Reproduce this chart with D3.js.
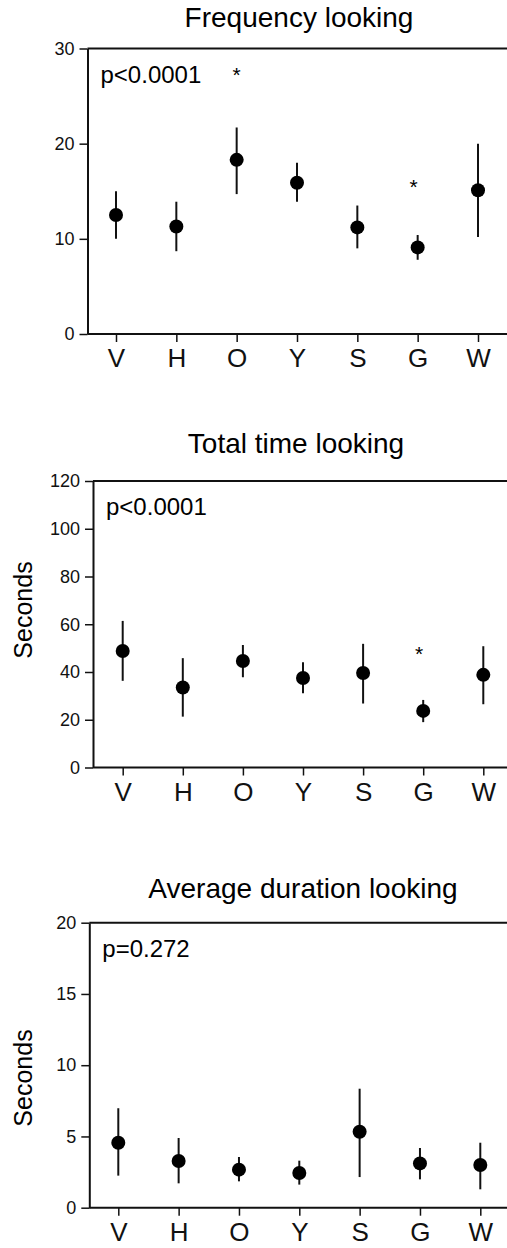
<!DOCTYPE html>
<html>
<head>
<meta charset="utf-8">
<script src="https://cdn.jsdelivr.net/npm/d3@7"></script>
<style>
  html, body { margin: 0; padding: 0; background: #fff; overflow: hidden; }
  svg { display: block; font-family: "Liberation Sans", Arial, Helvetica, sans-serif; }
</style>
</head>
<body>
<div id="chart"></div>
<script>
// Stimulus categories
const categories = ['V', 'H', 'O', 'Y', 'S', 'G', 'W'];

// Frequency looking (counts)
const freqMean = [12.5, 11.3, 18.3, 15.9, 11.2, 9.1, 15.1];
const freqLow  = [10.0, 8.7, 14.7, 13.9, 9.0, 7.8, 10.2];
const freqHigh = [15.0, 13.9, 21.7, 18.0, 13.5, 10.4, 20.0];
const freqTicks = [0, 10, 20, 30];
const freqStars = [{ cat: 'O', value: 27.4 }, { cat: 'G', value: 15.7 }];

// Total time looking (seconds)
const totalMean = [48.8, 33.5, 44.6, 37.5, 39.6, 23.7, 38.8];
const totalLow  = [36.3, 21.3, 37.8, 31.1, 26.8, 19.0, 26.5];
const totalHigh = [61.4, 45.8, 51.3, 44.1, 51.8, 28.3, 50.8];
const totalTicks = [0, 20, 40, 60, 80, 100, 120];
const totalStars = [{ cat: 'G', value: 48.2 }];

// Average duration looking (seconds)
const avgMean = [4.56, 3.28, 2.67, 2.43, 5.33, 3.11, 3.0];
const avgLow  = [2.25, 1.71, 1.85, 1.62, 2.15, 1.99, 1.29];
const avgHigh = [6.98, 4.89, 3.56, 3.30, 8.35, 4.19, 4.56];
const avgTicks = [0, 5, 10, 15, 20];
const avgStars = [];

const width = 507, height = 1248;

const panels = [
  { title: 'Frequency looking', note: 'p<0.0001', ylabel: null,
    mean: freqMean, low: freqLow, high: freqHigh, ticks: freqTicks, stars: freqStars,
    left: 87.5, top: 48.5, bottom: 334, x0: 116, x1: 478, titleX: 299, titleY: 27 },
  { title: 'Total time looking', note: 'p<0.0001', ylabel: 'Seconds',
    mean: totalMean, low: totalLow, high: totalHigh, ticks: totalTicks, stars: totalStars,
    left: 93, top: 481, bottom: 767.5, x0: 122.7, x1: 483.3, titleX: 296, titleY: 453, ylabelY: 610 },
  { title: 'Average duration looking', note: 'p=0.272', ylabel: 'Seconds',
    mean: avgMean, low: avgLow, high: avgHigh, ticks: avgTicks, stars: avgStars,
    left: 89.3, top: 922.7, bottom: 1207.7, x0: 118.3, x1: 480.3, titleX: 303, titleY: 898, ylabelY: 1078 }
];

const svg = d3.select('#chart').append('svg')
  .attr('width', width)
  .attr('height', height);

panels.forEach(p => {
  const g = svg.append('g');

  const x = d3.scalePoint().domain(categories).range([p.x0, p.x1]);
  const y = d3.scaleLinear()
    .domain([0, d3.max(p.ticks)])
    .range([p.bottom, p.top]);

  // title
  g.append('text')
    .attr('x', p.titleX)
    .attr('y', p.titleY)
    .attr('text-anchor', 'middle')
    .attr('font-size', 28)
    .text(p.title);

  // top frame line (open on the right)
  g.append('line')
    .attr('x1', p.left).attr('x2', width)
    .attr('y1', p.top).attr('y2', p.top)
    .attr('stroke', '#111').attr('stroke-width', 2);

  // y axis
  const yAxis = g.append('g')
    .attr('transform', `translate(${p.left},0)`)
    .call(d3.axisLeft(y).tickValues(p.ticks).tickSize(8).tickPadding(5).tickSizeOuter(0));
  yAxis.select('.domain').attr('stroke', '#111').attr('stroke-width', 2);
  yAxis.selectAll('.tick line').attr('stroke', '#111').attr('stroke-width', 1.5);
  yAxis.selectAll('.tick text')
    .attr('font-size', 18)
    .attr('font-family', '"Liberation Sans", Arial, sans-serif')
    .attr('fill', '#111');

  // x axis
  const xAxis = g.append('g')
    .attr('transform', `translate(0,${p.bottom})`)
    .call(d3.axisBottom(x).tickSize(8).tickPadding(7).tickSizeOuter(0));
  xAxis.select('.domain').attr('d', `M${p.left},0H${width}`)
    .attr('stroke', '#111').attr('stroke-width', 2);
  xAxis.selectAll('.tick line').attr('stroke', '#111').attr('stroke-width', 1.5);
  xAxis.selectAll('.tick text')
    .attr('font-size', 26)
    .attr('font-family', '"Liberation Sans", Arial, sans-serif')
    .attr('fill', '#111');

  // y label
  if (p.ylabel) {
    g.append('text')
      .attr('transform', `translate(32,${p.ylabelY}) rotate(-90)`)
      .attr('text-anchor', 'middle')
      .attr('font-size', 25)
      .text(p.ylabel);
  }

  // p value
  g.append('text')
    .attr('x', p.left + 13)
    .attr('y', p.top + 34)
    .attr('font-size', 24)
    .text(p.note);

  const rows = categories.map((c, i) => ({ cat: c, mean: p.mean[i], low: p.low[i], high: p.high[i] }));

  // error bars
  g.selectAll('.err')
    .data(rows)
    .enter()
    .append('line')
    .attr('class', 'err')
    .attr('x1', d => x(d.cat)).attr('x2', d => x(d.cat))
    .attr('y1', d => y(d.low)).attr('y2', d => y(d.high))
    .attr('stroke', '#111')
    .attr('stroke-width', 2);

  // means
  g.selectAll('.dot')
    .data(rows)
    .enter()
    .append('circle')
    .attr('class', 'dot')
    .attr('cx', d => x(d.cat))
    .attr('cy', d => y(d.mean))
    .attr('r', 7)
    .attr('fill', '#000');

  // significance stars
  g.selectAll('.star')
    .data(p.stars)
    .enter()
    .append('text')
    .attr('class', 'star')
    .attr('x', d => x(d.cat) - (d.cat === 'G' ? 4 : 0))
    .attr('y', d => y(d.value) + 9)
    .attr('text-anchor', 'middle')
    .attr('font-size', 21)
    .text('*');
});
</script>
</body>
</html>
